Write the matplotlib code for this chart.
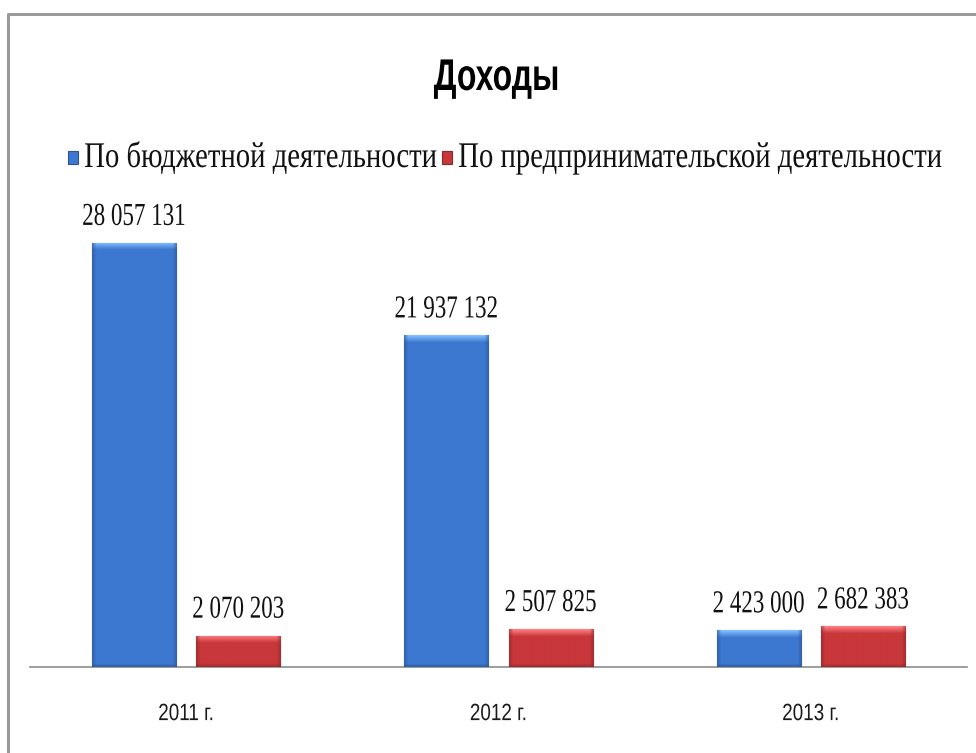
import numpy as np
import matplotlib
matplotlib.use("Agg")
import matplotlib.pyplot as plt
from matplotlib import patheffects
from matplotlib.patches import Rectangle
from matplotlib.text import Text
from matplotlib.transforms import Affine2D, Bbox, offset_copy

years = ["2011 г.", "2012 г.", "2013 г."]
series_names = ["По бюджетной деятельности", "По предпринимательской деятельности"]
budget = [28057131, 21937132, 2423000]
business = [2070203, 2507825, 2682383]

blue = np.array([60, 120, 208]) / 255
red = np.array([200, 55, 58]) / 255


class Squeeze(patheffects.AbstractPathEffect):
    """Narrow the glyphs horizontally (condensed look)."""

    def __init__(self, sx, anchor="center"):
        super().__init__()
        self.sx = sx
        self.anchor = anchor

    def draw_path(self, renderer, gc, tpath, affine, rgbFace=None):
        ext = tpath.get_extents()
        cx = ext.x0 if self.anchor == "left" else (ext.x0 + ext.x1) / 2
        sq = Affine2D().translate(-cx, 0).scale(self.sx, 1).translate(cx, 0)
        renderer.draw_path(gc, tpath, sq + affine, rgbFace)


class CondensedText(Text):
    """Text drawn narrower, with an extent that follows the narrowed glyphs."""

    def __init__(self, *args, sx=0.7, **kwargs):
        super().__init__(*args, **kwargs)
        self._sx = sx
        anchor = "left" if self.get_horizontalalignment() == "left" else "center"
        self.set_path_effects([Squeeze(sx, anchor)])

    def get_window_extent(self, renderer=None, dpi=None):
        bb = super().get_window_extent(renderer, dpi)
        if self.get_horizontalalignment() == "left":
            x0, x1 = bb.x0, bb.x0 + bb.width * self._sx
        else:
            cx = (bb.x0 + bb.x1) / 2
            x0, x1 = cx - bb.width * self._sx / 2, cx + bb.width * self._sx / 2
        return Bbox([[x0, bb.y0], [x1, bb.y1]])


def bevel_image(w, h, base):
    # body colour with a light top band and darker sides / bottom
    w, h = max(int(round(w)), 2), max(int(round(h)), 2)
    img = np.tile(base, (h, w, 1)).astype(float)
    yy, xx = np.mgrid[0:h, 0:w]
    light = np.clip(base + 0.28, 0, 1)
    dark = base * 0.72
    top = 7.0
    t = np.clip(1 - yy / top, 0, 1)[..., None]
    img = img * (1 - t) + light * t
    side = np.minimum(xx, w - 1 - xx)
    s = np.clip(1 - side / 4.0, 0, 1)[..., None] * 0.6
    img = img * (1 - s) + dark * s
    b = np.clip(1 - (h - 1 - yy) / 3.0, 0, 1)[..., None] * 0.7
    img = img * (1 - b) + dark * b
    return img


fig = plt.figure(figsize=(9.76, 7.53), dpi=100)
ax = fig.add_axes([30 / 976, 86 / 753, 937 / 976, 468.5 / 753])

x = np.arange(len(years))
bw = 0.269
off = 0.167
ax.set_xlim(-0.5, 2.5)
ax.set_ylim(0, 31000000)

serif = "Liberation Serif"
sans = "Liberation Sans"
label_tr = offset_copy(ax.transData, fig=fig, y=13, units="points")

for vals, col, dx in [(budget, blue, -off), (business, red, off)]:
    bars = ax.bar(x + dx, vals, bw, color=col, edgecolor=col * 0.7, linewidth=0.8, zorder=2)
    for rect, v in zip(bars, vals):
        ext = rect.get_window_extent()
        img = bevel_image(ext.width, ext.height, col)
        x0, y0 = rect.get_x(), rect.get_y()
        im = ax.imshow(img, extent=(x0, x0 + rect.get_width(), y0, y0 + rect.get_height()),
                       aspect="auto", interpolation="bilinear", zorder=3)
        im.set_clip_path(rect)
        ax.add_artist(CondensedText(rect.get_x() + rect.get_width() / 2, v,
                                    f"{v:,}".replace(",", " "), transform=label_tr,
                                    ha="center", va="baseline", fontsize=23,
                                    family=serif, color="#111111", sx=0.72))

ax.set_aspect("auto")
ax.set_xticks(x)
ax.set_xticklabels(years, family=sans, fontsize=17, color="#1a1a1a")
for lab in ax.get_xticklabels():
    lab.set_path_effects([Squeeze(0.8)])
ax.tick_params(axis="x", length=0, pad=26)
ax.set_yticks([])
for sp in ["top", "left", "right"]:
    ax.spines[sp].set_visible(False)
ax.spines["bottom"].set_color("#8c8c8c")
ax.spines["bottom"].set_linewidth(1.2)

# title
fig.add_artist(CondensedText(497 / 976, 1 - 90 / 753, "Доходы", transform=fig.transFigure,
                             ha="center", va="baseline", fontsize=32, family=sans,
                             weight="bold", sx=0.72))

# legend row
leg_y = 1 - 167 / 753
for (mx, tx), name, col in zip([(68, 84), (442, 458)], series_names, [blue, red]):
    fig.patches.append(Rectangle((mx / 976, 1 - 164 / 753), 10 / 976, 13 / 753,
                                 transform=fig.transFigure, facecolor=col,
                                 edgecolor=col * 0.7, linewidth=0.8))
    fig.add_artist(CondensedText(tx / 976, leg_y, name, transform=fig.transFigure,
                                 ha="left", va="baseline", fontsize=26, family=serif,
                                 color="#111111", sx=0.795))

# outer frame (left and top edges)
fig.add_artist(plt.Line2D([8 / 976, 8 / 976, 1], [0, 1 - 14 / 753, 1 - 14 / 753],
                          transform=fig.transFigure, color="#9a9a9a", linewidth=2.2))

fig.savefig("out.png", dpi=100)
